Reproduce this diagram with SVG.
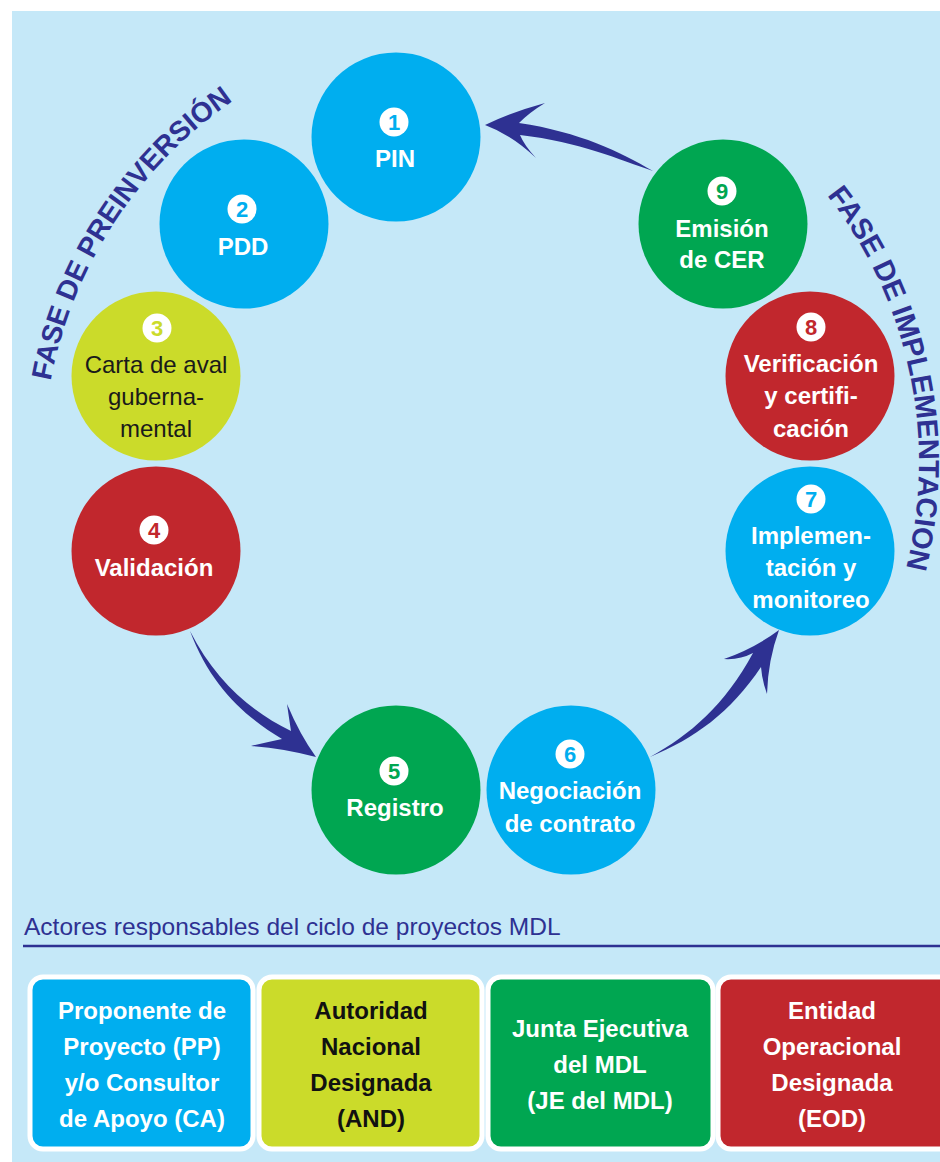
<svg xmlns="http://www.w3.org/2000/svg" width="940" height="1162" viewBox="0 0 940 1162">
<style>
.lbl{font-family:"Liberation Sans",Arial,sans-serif;font-weight:700;font-size:24px;text-anchor:middle;fill:#fff}
.dark{fill:#1a1a1a;font-weight:400}
.num{font-family:"Liberation Sans",Arial,sans-serif;font-weight:700;font-size:22px;text-anchor:middle}
.badge{fill:#fff}
.blue{fill:#00AEEF}.green{fill:#00A651}.red{fill:#C1272D}.yellow{fill:#CBDB2A}
.phase{font-family:"Liberation Sans",Arial,sans-serif;font-weight:700;font-size:29px;fill:#2E3192}
.arrow{fill:#2E3192}
.box{stroke:#fff;stroke-width:5}
.btxt{font-family:"Liberation Sans",Arial,sans-serif;font-weight:700;font-size:24px;text-anchor:middle;fill:#fff}
.title{font-family:"Liberation Sans",Arial,sans-serif;font-size:24.5px;fill:#2E3192}
</style>
<defs>
<path id="arcL" d="M 50.6,381 A 440 440 0 0 1 332.5,49.5"/>
<path id="arcR" d="M 827.0,195.3 A 436 436 0 0 1 878.1,647.3"/>
</defs>
<rect x="0" y="0" width="940" height="1162" fill="#fff"/>
<rect x="12" y="11" width="928" height="1151" fill="#C5E8F8"/>

<g id="phase-labels">
<text class="phase" style="font-size:28.3px"><textPath href="#arcL">FASE DE PREINVERSIÓN</textPath></text>
<text class="phase"><textPath href="#arcR">FASE DE IMPLEMENTACION</textPath></text>
</g>

<g id="connectors">
<path class="arrow" d="M 653,171 C 620,152 580,132 519,123 Q 530,112 545,103 Q 512,112 485,125 Q 512,135 536,158 Q 524,145 520,135 C 580,142 620,160 653,171 Z"/>
<path class="arrow" d="M 190,631 C 215,680 250,711 291,731 Q 289,718 287,704 Q 300,735 316,757 Q 282,748 251,746 Q 268,742 282,739 C 245,717 210,685 190,631 Z"/>
<path class="arrow" d="M 650,757 C 690,735 725,705 753,653 Q 740,660 724,659 Q 755,648 779,630 Q 768,660 767,694 Q 762,680 761,667 C 730,713 695,738 650,757 Z"/>
</g>

<g id="n1">
<circle class="blue" cx="396" cy="137" r="84.5"/>
<circle class="badge" cx="394" cy="122" r="14.5"/>
<text class="num blue" x="394" y="130">1</text>
<text class="lbl" x="395" y="167">PIN</text>
</g>
<g id="n2">
<circle class="blue" cx="244" cy="224" r="84.5"/>
<circle class="badge" cx="242" cy="209" r="14.5"/>
<text class="num blue" x="242" y="217">2</text>
<text class="lbl" x="243" y="255">PDD</text>
</g>
<g id="n3">
<circle class="yellow" cx="156" cy="376" r="84.5"/>
<circle class="badge" cx="157" cy="328" r="14.5"/>
<text class="num yellow" x="157" y="336">3</text>
<text class="lbl dark" x="156" y="373">Carta de aval</text>
<text class="lbl dark" x="156" y="405">guberna-</text>
<text class="lbl dark" x="156" y="437">mental</text>
</g>
<g id="n4">
<circle class="red" cx="156" cy="551" r="84.5"/>
<circle class="badge" cx="154" cy="530" r="14.5"/>
<text class="num red" x="154" y="538">4</text>
<text class="lbl" x="154" y="576">Validación</text>
</g>
<g id="n5">
<circle class="green" cx="396" cy="790" r="84.5"/>
<circle class="badge" cx="394" cy="771" r="14.5"/>
<text class="num green" x="394" y="779">5</text>
<text class="lbl" x="395" y="816">Registro</text>
</g>
<g id="n6">
<circle class="blue" cx="571" cy="790" r="84.5"/>
<circle class="badge" cx="570" cy="754" r="14.5"/>
<text class="num blue" x="570" y="762">6</text>
<text class="lbl" x="570" y="799">Negociación</text>
<text class="lbl" x="570" y="832">de contrato</text>
</g>
<g id="n7">
<circle class="blue" cx="810" cy="551" r="84.5"/>
<circle class="badge" cx="811" cy="499" r="14.5"/>
<text class="num blue" x="811" y="507">7</text>
<text class="lbl" x="811" y="544">Implemen-</text>
<text class="lbl" x="811" y="576">tación y</text>
<text class="lbl" x="811" y="608">monitoreo</text>
</g>
<g id="n8">
<circle class="red" cx="810" cy="376" r="84.5"/>
<circle class="badge" cx="811" cy="327" r="14.5"/>
<text class="num red" x="811" y="335">8</text>
<text class="lbl" x="811" y="372">Verificación</text>
<text class="lbl" x="811" y="404">y certifi-</text>
<text class="lbl" x="811" y="437">cación</text>
</g>
<g id="n9">
<circle class="green" cx="723" cy="224" r="84.5"/>
<circle class="badge" cx="722" cy="191" r="14.5"/>
<text class="num green" x="722" y="199">9</text>
<text class="lbl" x="722" y="237">Emisión</text>
<text class="lbl" x="722" y="268">de CER</text>
</g>

<g id="legend-title">
<text class="title" x="24" y="935">Actores responsables del ciclo de proyectos MDL</text>
<line x1="23" y1="946" x2="940" y2="946" stroke="#2E3192" stroke-width="2.5"/>
</g>

<g id="actor-pp">
<rect class="box blue" x="30" y="977" width="223" height="172" rx="13"/>
<text class="btxt" x="142" y="1019">Proponente de</text>
<text class="btxt" x="142" y="1055">Proyecto (PP)</text>
<text class="btxt" x="142" y="1091">y/o Consultor</text>
<text class="btxt" x="142" y="1127">de Apoyo (CA)</text>
</g>
<g id="actor-and">
<rect class="box yellow" x="259" y="977" width="223" height="172" rx="13"/>
<text class="btxt" style="fill:#111" x="371" y="1019">Autoridad</text>
<text class="btxt" style="fill:#111" x="371" y="1055">Nacional</text>
<text class="btxt" style="fill:#111" x="371" y="1091">Designada</text>
<text class="btxt" style="fill:#111" x="371" y="1127">(AND)</text>
</g>
<g id="actor-je">
<rect class="box green" x="488" y="977" width="225" height="172" rx="13"/>
<text class="btxt" x="600" y="1037">Junta Ejecutiva</text>
<text class="btxt" x="600" y="1073">del MDL</text>
<text class="btxt" x="600" y="1109">(JE del MDL)</text>
</g>
<g id="actor-eod">
<rect class="box red" x="718" y="977" width="235" height="172" rx="13"/>
<text class="btxt" x="832" y="1019">Entidad</text>
<text class="btxt" x="832" y="1055">Operacional</text>
<text class="btxt" x="832" y="1091">Designada</text>
<text class="btxt" x="832" y="1127">(EOD)</text>
</g>
</svg>
